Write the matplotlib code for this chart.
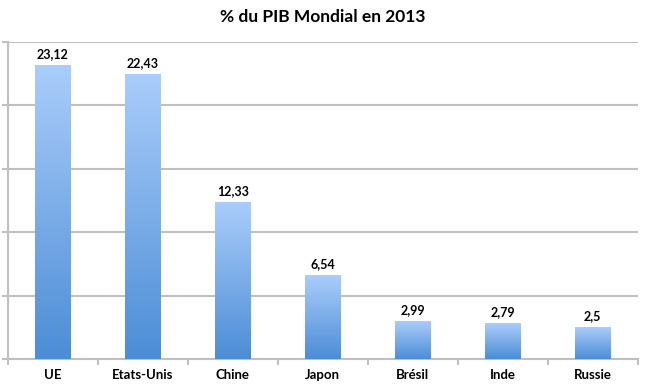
import matplotlib.pyplot as plt
import numpy as np
from matplotlib.colors import LinearSegmentedColormap

plt.rcParams["font.family"] = ["Lato", "DejaVu Sans"]

countries = ["UE", "Etats-Unis", "Chine", "Japon", "Brésil", "Inde", "Russie"]
values = [23.12, 22.43, 12.33, 6.54, 2.99, 2.79, 2.5]
value_labels = ["23,12", "22,43", "12,33", "6,54", "2,99", "2,79", "2,5"]

fig = plt.figure(figsize=(6.45, 3.84), dpi=100)
ax = fig.add_axes([7.7 / 645, 1 - 359.3 / 384, 630 / 645, 317.6 / 384])

x = np.arange(len(countries))
bar_w = 0.4
grad = np.linspace(0, 1, 256).reshape(-1, 1)
cmap = LinearSegmentedColormap.from_list("bars", ["#4c8dd6", "#aacdfb"])

bars = ax.bar(x, values, width=bar_w, color="none", zorder=3)
for b, lab in zip(bars, value_labels):
    x0, y0 = b.get_x(), b.get_y()
    w, h = b.get_width(), b.get_height()
    ax.imshow(grad, cmap=cmap, origin="lower", aspect="auto",
              extent=[x0, x0 + w, y0, y0 + h], zorder=3)
    ax.text(x0 + w / 2, h + 0.45, lab, ha="center", va="bottom",
            fontsize=9, fontweight="bold")

ax.set_xlim(-0.5, len(countries) - 0.5)
ax.set_ylim(0, 25)
ax.set_yticks(np.arange(0, 26, 5))
ax.set_yticklabels([])
ax.yaxis.grid(True, color="#c0c0c0", linewidth=1.5, zorder=0)
ax.set_axisbelow(True)

ax.set_xticks(x)
ax.set_xticklabels(countries, fontsize=9.5, fontweight="bold")
ax.set_xticks(np.arange(-0.5, len(countries), 1), minor=True)
ax.tick_params(axis="x", which="major", length=0, pad=7)
ax.tick_params(axis="x", which="minor", length=4, color="#c0c0c0", width=1.5)
ax.tick_params(axis="y", length=4, color="#c0c0c0", width=1.5)

for s in ["top", "right"]:
    ax.spines[s].set_visible(False)
for s in ["left", "bottom"]:
    ax.spines[s].set_color("#c0c0c0")
    ax.spines[s].set_linewidth(1.5)

fig.text(0.5, 1 - 17 / 384, "% du PIB Mondial en 2013", ha="center",
         va="center", fontsize=12.5, fontweight="bold")

fig.savefig("out.png", dpi=100)
